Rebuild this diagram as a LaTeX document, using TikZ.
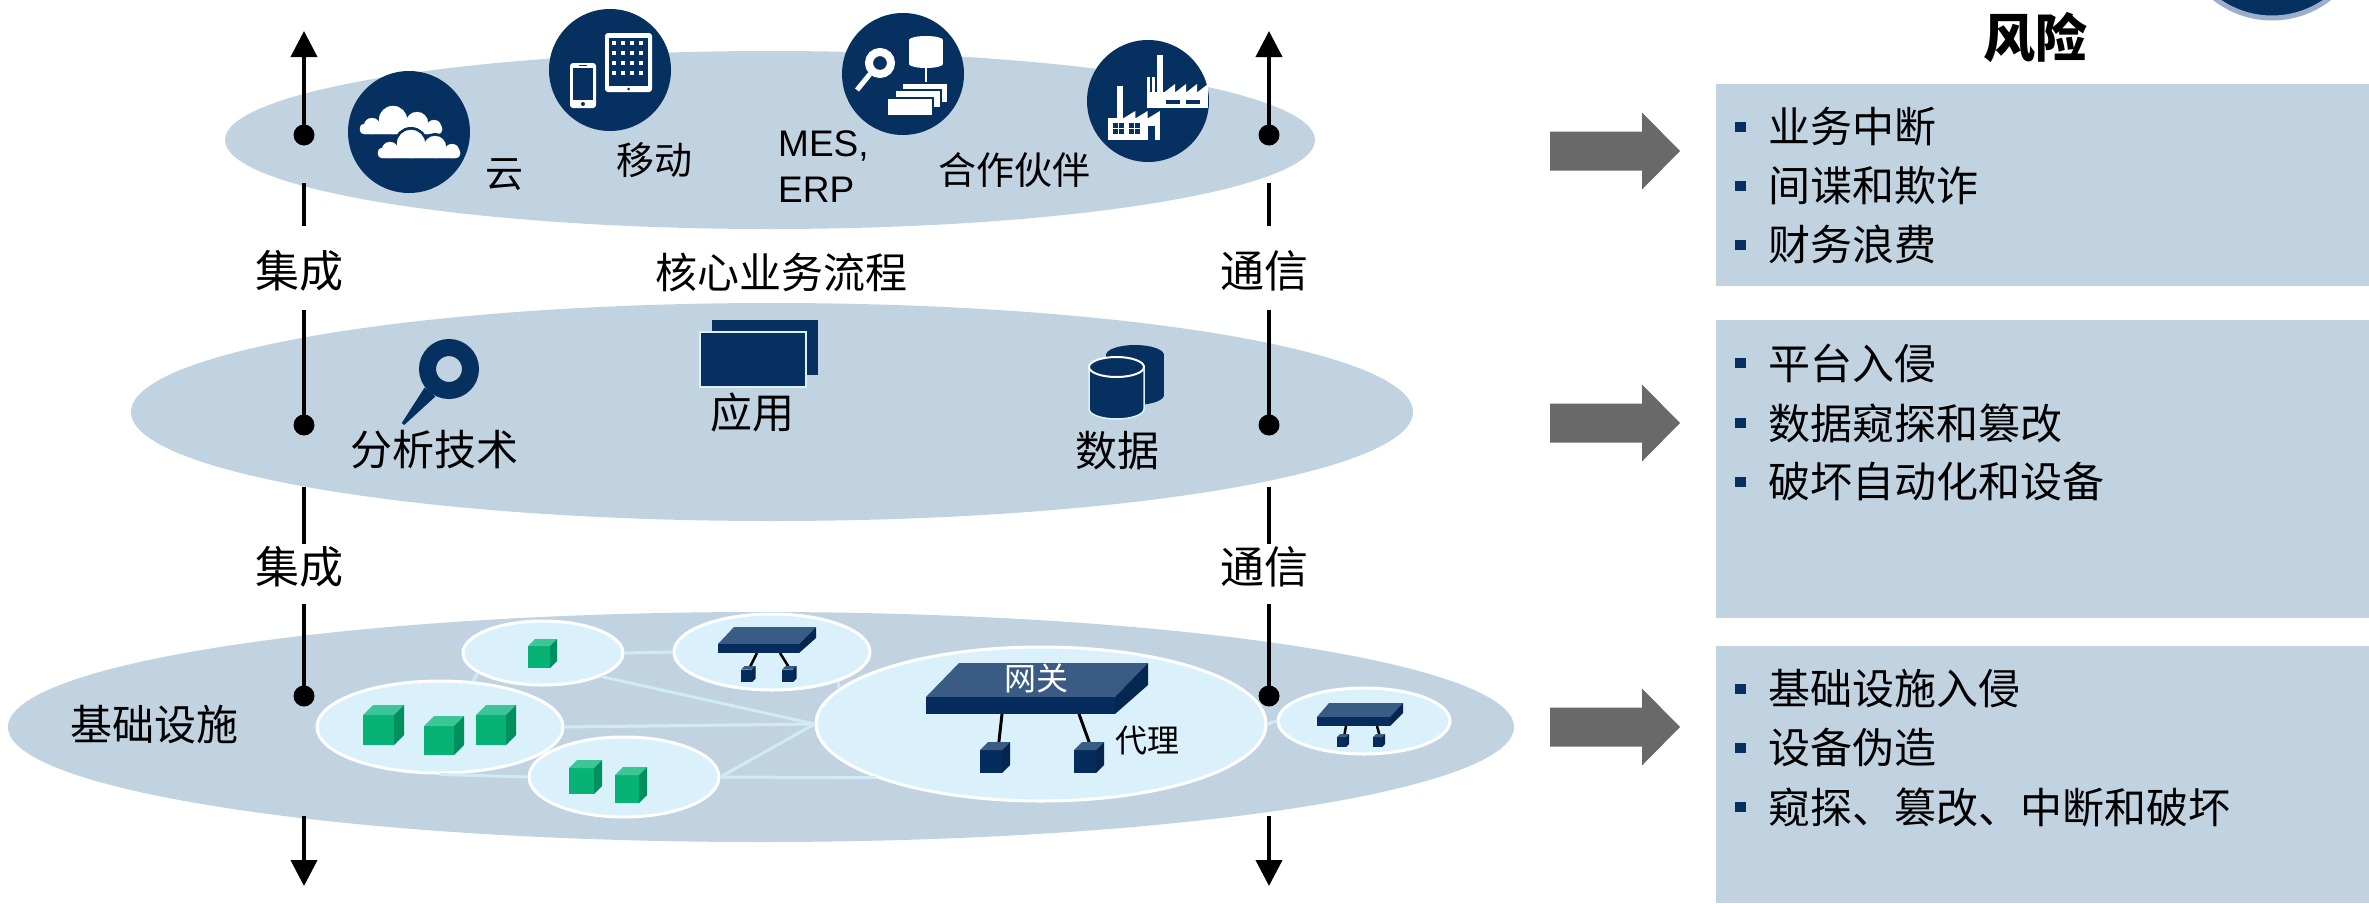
\documentclass[tikz,border=0pt]{standalone}
\usepackage{fontspec}
\setmainfont{Noto Sans CJK SC}
\newfontfamily\latinsans{Liberation Sans}
\usetikzlibrary{shapes.geometric,arrows.meta}

\definecolor{navy}{HTML}{06305F}
\definecolor{layerfill}{HTML}{C1D3E1}
\definecolor{subfill}{HTML}{DAF1FB}
\definecolor{linkcol}{HTML}{D0EAF6}
\definecolor{gfront}{HTML}{07B374}
\definecolor{gtop}{HTML}{3CC596}
\definecolor{gside}{HTML}{00905D}
\definecolor{nfront}{HTML}{062C5E}
\definecolor{ntop}{HTML}{3A5B83}
\definecolor{nside}{HTML}{04264F}
\definecolor{arrowgray}{HTML}{696969}
\definecolor{ringcol}{HTML}{9BAECB}

% box with front face at (#1,#2), width #3, height #4, depth #5, colour set #6
\newcommand\mkcube[6]{%
  \fill[#6front] (#1,#2) rectangle ++(#3,#4);
  \fill[#6top] (#1,#2) -- ++(#5,-#5) -- ++(#3,0) -- ++(-#5,#5) -- cycle;
  \fill[#6side] (#1+#3,#2) -- ++(#5,-#5) -- ++(0,#4) -- ++(-#5,#5) -- cycle;}

% block arrow pointing to a risk panel, centred at height #1
\newcommand\riskarrow[1]{%
  \fill[arrowgray] (1550,#1-19.5) -- (1642,#1-19.5) -- (1642,#1-38.5) -- (1680,#1)
    -- (1642,#1+38.5) -- (1642,#1+19.5) -- (1550,#1+19.5) -- cycle;}

\newcommand\riskbullet{\textcolor{navy}{\rule[11pt]{11pt}{10pt}}\hspace{22pt}}

\tikzset{
  layer/.style={ellipse, fill=layerfill, inner sep=0pt},
  subell/.style={ellipse, fill=subfill, draw=white, line width=3pt, inner sep=0pt},
  iconcirc/.style={circle, fill=navy, minimum size=122pt, inner sep=0pt},
  link/.style={draw=linkcol, line width=3pt},
  axis/.style={line width=4pt, black},
  dotnode/.style={circle, fill=black, minimum size=21pt, inner sep=0pt},
  tipped/.style={-{Triangle[length=26pt,width=26pt]}},
  lbl/.style={inner sep=0pt, font=\fontsize{42}{50}\selectfont},
  toplbl/.style={inner sep=0pt, font=\fontsize{38}{46}\selectfont},
  devlbl/.style={inner sep=0pt, font=\fontsize{32}{38}\selectfont},
  axlbl/.style={inner sep=0pt, font=\fontsize{44}{52}\selectfont},
  riskbox/.style={fill=layerfill, anchor=north west, inner sep=0pt, minimum width=653pt},
  item/.style={anchor=west, inner sep=0pt, font=\fontsize{42}{50}\selectfont},
  cloudpic/.pic={
    \filldraw[rounded corners=4pt] (0,0) rectangle (82,-10);
    \filldraw (12,-8) circle (8);
    \filldraw (33,-14) circle (14);
    \filldraw (57,-11) circle (11);
    \filldraw (74,-7) circle (7);
  }
}

\begin{document}
\begin{tikzpicture}[x=1pt,y=-1pt]
\useasboundingbox (0,0) rectangle (2369,903);

% ---------- three layers ----------
\node[layer, minimum width=1090pt, minimum height=178pt] (L1) at (770,140) {};
\node[layer, minimum width=1282pt, minimum height=218pt] (L2) at (772,412) {};
\node[layer, minimum width=1506pt, minimum height=230pt] (L3) at (761,727) {};

% ---------- top layer: cloud, mobile, MES/ERP, partners ----------
\node[iconcirc] (cloudC) at (409,132) {};
\node[iconcirc] (mobileC) at (610,70) {};
\node[iconcirc] (mesC) at (903,74) {};
\node[iconcirc] (partnerC) at (1148,101) {};

% clouds
\pic[white, line width=0.3pt] at (360,134) {cloudpic};
\pic[navy, line width=6pt] at (378,158) {cloudpic};
\pic[white, line width=0.3pt] at (378,158) {cloudpic};

% phone
\fill[white, rounded corners=3pt] (570,63) rectangle (596,108);
\fill[navy] (573,68) rectangle (593,100);
\fill[navy] (583,104) circle (2);
\draw[navy, line width=1pt] (579,65.5) -- (587,65.5);
% tablet
\fill[white, rounded corners=3pt] (605,33) rectangle (652,92);
\fill[navy] (609,38) rectangle (648,86);
\foreach \i in {0,...,3} \foreach \j in {0,...,3}
  \fill[white] (612+9*\i,41+10*\j) rectangle ++(4,4);
\fill[navy] (628.5,89) circle (1.5);

% MES / ERP: magnifier, database, documents
\draw[white, line width=8pt] (880,63) circle (11);
\draw[white, line width=5pt] (870,74) -- (857,90);
\fill[white] (909,40) rectangle (943,64);
\fill[white] (926,40) ellipse (17 and 4);
\fill[white] (926,64) ellipse (17 and 4);
\draw[white, line width=2.5pt] (926,66) -- (926,84);
\filldraw[fill=white, draw=navy, line width=2.5pt] (902,83) rectangle (948,103);
\filldraw[fill=white, draw=navy, line width=2.5pt] (895,90) rectangle (941,108);
\filldraw[fill=white, draw=navy, line width=2.5pt] (887,98) rectangle (933,116);

% factories
\fill[white] (1157,55) rectangle (1163,92);
\fill[white] (1147,77) rectangle (1150,92);
\fill[white] (1152,77) rectangle (1155,92);
\fill[white] (1147,92) rectangle (1208,108);
\foreach \k in {0,...,3}
  \fill[white] (1164+11*\k,92.5) -- (1175+11*\k,84) -- (1175+11*\k,92.5) -- cycle;
\fill[navy] (1166,100) rectangle (1180,104);
\fill[navy] (1186,100) rectangle (1200,104);
\fill[white] (1117,86) rectangle (1123,118);
\fill[white] (1108,118) rectangle (1160,140);
\foreach \k in {0,...,2}
  \fill[white] (1123+12.3*\k,118.5) -- (1135.3+12.3*\k,111) -- (1135.3+12.3*\k,118.5) -- cycle;
\fill[navy] (1113,123) rectangle (1124,134);
\fill[navy] (1129,123) rectangle (1140,134);
\draw[white, line width=0.8pt] (1118.5,123) -- (1118.5,134) (1113,128.5) -- (1124,128.5)
  (1134.5,123) -- (1134.5,134) (1129,128.5) -- (1140,128.5);
\fill[navy] (1148,126) rectangle (1155,140);

\node[toplbl] (yun) at (504,175) {云};
\node[toplbl] (yidong) at (654,160) {移动};
\node[anchor=west, inner sep=0pt, align=left, font=\latinsans\fontsize{37}{46}\selectfont] (meserp) at (778,167) {MES,\\ERP};
\node[toplbl] (hezuo) at (1014,170) {合作伙伴};

% ---------- middle layer: analytics, applications, data ----------
\draw[navy, line width=17pt] (449,369) circle (21.5);
\fill[navy] (424.6,387.5) -- (435.4,396.5) -- (404.2,425) -- (401.8,423) -- cycle;

\fill[navy] (712,320) rectangle (818,375);
\filldraw[fill=navy, draw=subfill, line width=1.5pt] (700,332) rectangle (806,387);

\fill[navy] (1106,355) rectangle (1164,395);
\fill[navy] (1135,355) ellipse (29 and 10);
\fill[navy] (1135,395) ellipse (29 and 10);
\filldraw[fill=navy, draw=subfill, line width=1.5pt] (1089,367) -- (1089,409)
  arc[start angle=180, end angle=0, x radius=27.5, y radius=10] -- (1144,367) -- cycle;
\filldraw[fill=navy, draw=white, line width=2pt] (1116.5,367) ellipse (27.5 and 10);

\node[lbl] (hexin) at (781,272) {核心业务流程};
\node[lbl] (fenxi) at (434,450) {分析技术};
\node[lbl] (yingyong) at (752,413) {应用};
\node[lbl] (shuju) at (1117,451) {数据};

% ---------- bottom layer: infrastructure network ----------
\node[subell, minimum width=160pt, minimum height=64pt] (A) at (543,653) {};
\node[subell, minimum width=196pt, minimum height=76pt] (B) at (772,652) {};
\node[subell, minimum width=246pt, minimum height=92pt] (C) at (440,727) {};
\node[subell, minimum width=190pt, minimum height=80pt] (D) at (624,777) {};
\node[subell, minimum width=450pt, minimum height=154pt] (E) at (1041,724) {};
\node[subell, minimum width=172pt, minimum height=66pt] (F) at (1364,721) {};

\draw[link] (A.east) -- (B.west);
\draw[link] (A.197) -- (C.54);
\draw[link] (A.-22) -- (E.west);
\draw[link] (C.east) -- (E.west);
\draw[link] (C.south) -- (D.west);
\draw[link] (D.east) -- (E.west);
\draw[link] (D.east) -- (E.198);
\draw[link] (B.-24) -- (E.170);
\draw[link] (E.east) -- (F.west);

% green devices
\mkcube{528}{646}{22}{22}{7}{g}
\mkcube{363}{715}{31}{30}{10}{g}
\mkcube{424}{726}{30}{29}{10}{g}
\mkcube{476}{715}{30}{30}{10}{g}
\mkcube{569}{768}{25}{26}{8}{g}
\mkcube{615}{775}{24}{28}{8}{g}

% switch in B
\draw[black, line width=2.5pt] (757,653) -- (749,669) (780,653) -- (790,669);
\fill[ntop] (718,644) -- (734,627) -- (816,627) -- (799,644) -- cycle;
\fill[nfront] (718,644) rectangle (799,653);
\fill[nside] (799,644) -- (816,627) -- (816,638) -- (799,653) -- cycle;
\mkcube{741}{669.5}{11}{12.5}{3.5}{n}
\mkcube{782}{669.5}{11}{12.5}{3.5}{n}

% gateway in E
\draw[black, line width=3pt] (1002,714) -- (998,750) (1079,714) -- (1092,750);
\fill[ntop] (926,697) -- (959,663) -- (1148,663) -- (1115,697) -- cycle;
\fill[nfront] (926,697) rectangle (1115,714);
\fill[nside] (1115,697) -- (1148,663) -- (1148,685) -- (1115,714) -- cycle;
\mkcube{980}{750}{22}{23}{8}{n}
\mkcube{1074}{750}{22}{23}{8}{n}
\node[devlbl, text=white] (wangguan) at (1036,678) {网关};
\node[devlbl] (daili) at (1147,741) {代理};

% switch in F
\draw[black, line width=2.5pt] (1346,726) -- (1344,737) (1377,726) -- (1380,737);
\fill[ntop] (1317,717) -- (1329,703) -- (1403,703) -- (1390,717) -- cycle;
\fill[nfront] (1317,717) rectangle (1390,726);
\fill[nside] (1390,717) -- (1403,703) -- (1403,713) -- (1390,726) -- cycle;
\mkcube{1337}{737}{9}{10}{3}{n}
\mkcube{1373}{737}{9}{10}{3}{n}

\node[lbl] (jichu) at (154,725) {基础设施};

% ---------- integration / communication axes ----------
\foreach \s/\x in {L/304,R/1269} {
  \coordinate (t\s) at (\x,31);
  \coordinate (p\s1) at (\x,135);
  \coordinate (g\s1) at (\x,183);
  \coordinate (e\s1) at (\x,226);
  \coordinate (s\s2) at (\x,310);
  \coordinate (p\s2) at (\x,425);
  \coordinate (g\s2) at (\x,487);
  \coordinate (e\s2) at (\x,544);
  \coordinate (s\s3) at (\x,604);
  \coordinate (p\s3) at (\x,696);
  \coordinate (g\s3) at (\x,816);
  \coordinate (b\s) at (\x,886);
  \draw[axis, tipped] (p\s1) -- (t\s);
  \draw[axis] (g\s1) -- (e\s1);
  \draw[axis] (s\s2) -- (p\s2);
  \draw[axis] (g\s2) -- (e\s2);
  \draw[axis] (s\s3) -- (p\s3);
  \draw[axis, tipped] (g\s3) -- (b\s);
  \node[dotnode] (d\s1) at (p\s1) {};
  \node[dotnode] (d\s2) at (p\s2) {};
  \node[dotnode] (d\s3) at (p\s3) {};
}
\node[axlbl] (jiL1) at (299,271) {集成};
\node[axlbl] (jiL2) at (299,567) {集成};
\node[axlbl] (txR1) at (1264,271) {通信};
\node[axlbl] (txR2) at (1264,567) {通信};

% ---------- risks ----------
\node[circle, fill=navy, draw=ringcol, line width=5pt, minimum size=186pt] (badge) at (2272,-75) {};
\node[inner sep=0pt, font=\fontsize{52}{60}\selectfont\bfseries] (title) at (2035,38) {风险};

\node[riskbox, minimum height=202pt] (R1) at (1716,84) {};
\node[riskbox, minimum height=298pt] (R2) at (1716,320) {};
\node[riskbox, minimum height=257pt] (R3) at (1716,646) {};

\riskarrow{151}
\riskarrow{423}
\riskarrow{727}

\node[item] (r11) at (1735,127) {\riskbullet 业务中断};
\node[item] (r12) at (1735,186) {\riskbullet 间谍和欺诈};
\node[item] (r13) at (1735,245) {\riskbullet 财务浪费};
\node[item] (r21) at (1735,363) {\riskbullet 平台入侵};
\node[item] (r22) at (1735,423) {\riskbullet 数据窥探和篡改};
\node[item] (r23) at (1735,482) {\riskbullet 破坏自动化和设备};
\node[item] (r31) at (1735,689) {\riskbullet 基础设施入侵};
\node[item] (r32) at (1735,748) {\riskbullet 设备伪造};
\node[item] (r33) at (1735,807) {\riskbullet 窥探、篡改、中断和破坏};
\end{tikzpicture}
\end{document}
